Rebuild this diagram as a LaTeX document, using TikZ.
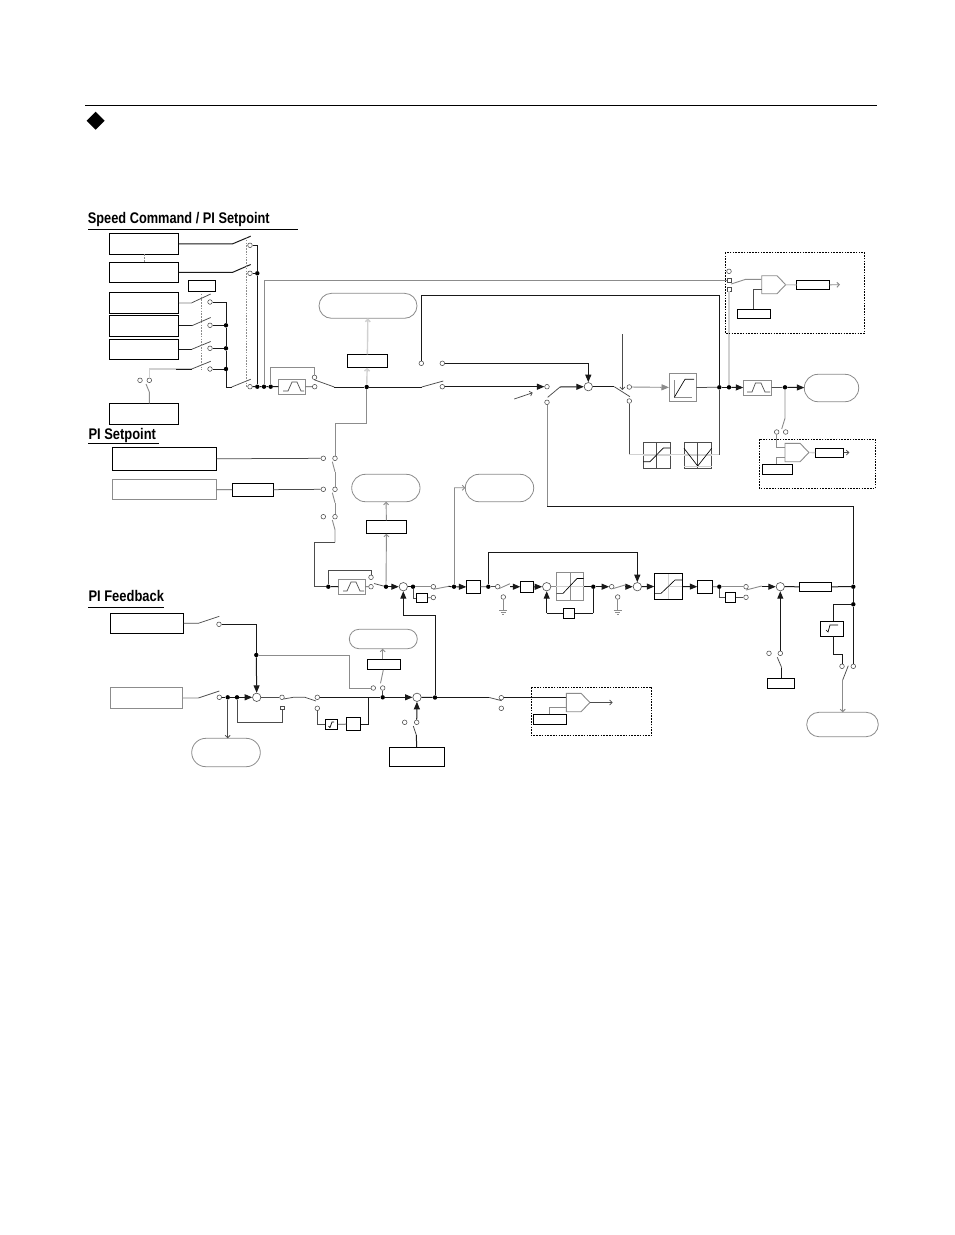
\documentclass[tikz,border=0pt]{standalone}
\usepackage{fontspec}
\setmainfont{Liberation Sans}
\usetikzlibrary{arrows.meta,shapes.misc}
\definecolor{mg}{gray}{0.55}
\definecolor{lg}{gray}{0.82}
\definecolor{dg}{gray}{0.3}
\tikzset{
  bk/.style={draw=black,line width=1pt,fill=white,inner sep=0pt,outer sep=0pt},
  bg/.style={draw=mg,line width=0.9pt,fill=white,inner sep=0pt,outer sep=0pt},
  bd/.style={draw=dg,line width=0.8pt,fill=white,inner sep=0pt,outer sep=0pt},
  ov/.style={rounded rectangle,draw=mg,line width=0.8pt,fill=white,inner sep=0pt,outer sep=0pt},
  term/.style={circle,draw=dg,line width=0.55pt,fill=white,inner sep=0pt,minimum size=4.6pt},
  sqterm/.style={rectangle,draw=dg,line width=0.55pt,fill=white,inner sep=0pt,minimum size=3.8pt},
  sumj/.style={circle,draw=dg,line width=0.6pt,fill=white,inner sep=0pt,minimum size=8.4pt},
  dotj/.style={circle,fill=black,inner sep=0pt,minimum size=4.4pt},
  wk/.style={draw=black!90,line width=1pt},
  wt/.style={draw=dg,line width=0.75pt},
  wm/.style={draw=mg,line width=0.9pt},
  wl/.style={draw=lg,line width=1.4pt},
  fa/.style={-{Triangle[length=7.5pt,width=6pt]}},
  oa/.style={-{Straight Barb[length=2.5pt,width=5pt]}},
  dsh/.style={draw=black,line width=0.75pt,dash pattern=on 1.6pt off 1.2pt},
  gdsh/.style={draw=mg,line width=0.7pt,dash pattern=on 1.6pt off 1.2pt},
  ttl/.style={anchor=base west,inner sep=0pt,font=\bfseries\fontsize{15.4}{17}\selectfont},
}
\newcommand{\mkbox}[6]{%
  \pgfmathsetmacro{\mkcx}{(#2+#4)/2}\pgfmathsetmacro{\mkcy}{(#3+#5)/2}%
  \pgfmathsetmacro{\mkw}{#4-#2}\pgfmathsetmacro{\mkh}{#5-#3}%
  \node[#6,minimum width=\mkw pt,minimum height=\mkh pt] (#1) at (\mkcx,\mkcy) {};}
\newcommand{\mkterm}[3]{\node[term] (#1) at (#2,#3) {};}
\newcommand{\mksq}[3]{\node[sqterm] (#1) at (#2,#3) {};}
\newcommand{\mkdot}[3]{\node[dotj] (#1) at (#2,#3) {};}
\newcommand{\mksum}[3]{\node[sumj] (#1) at (#2,#3) {};}
\newcommand{\mkco}[3]{\coordinate (#1) at (#2,#3);}
\begin{document}
\begin{tikzpicture}[x=1pt,y=-1pt]
\useasboundingbox (0,0) rectangle (954,1235);
\fill[white] (0,0) rectangle (954,1235);
% header
\mkco{ra}{85}{105.3}\mkco{rb}{877}{105.3}
\draw[black,line width=1pt] (ra) -- (rb);
\fill[black] (95.7,111.7) -- (104.7,120.7) -- (95.7,129.7) -- (86.7,120.7) -- cycle;
% titles
\node[ttl] (t1) at (87.7,223.5) {\scalebox{.83}[1]{Speed Command / PI Setpoint}};
\node[ttl] (t2) at (88.3,439.5) {\scalebox{.84}[1]{PI Setpoint}};
\node[ttl] (t3) at (88.3,601.7) {\scalebox{.84}[1]{PI Feedback}};
\mkco{u1a}{88}{229.3}\mkco{u1b}{298}{229.3}
\mkco{u2a}{88}{443.3}\mkco{u2b}{159}{443.3}
\mkco{u3a}{88}{607.3}\mkco{u3b}{164}{607.3}
\draw[black,line width=.9pt] (u1a)--(u1b) (u2a)--(u2b) (u3a)--(u3b);

% ---- boxes
\mkbox{a1}{109.3}{233.3}{178.7}{254.3}{bk}
\mkbox{a2}{109.3}{262.3}{178.7}{282.3}{bk}
\mkbox{a3}{109.3}{292.3}{178.7}{313.3}{bk}
\mkbox{a4}{109.3}{315.3}{178.7}{336.3}{bk}
\mkbox{a5}{109.3}{339.3}{178.7}{359.3}{bk}
\mkbox{a6}{109.3}{403.3}{178.7}{424.3}{bk}
\mkbox{as}{188.3}{280.3}{215.7}{291.3}{bk}
\mkbox{ovA}{319}{293.3}{417}{318.3}{ov}
\mkbox{rA}{347.3}{354.3}{387.3}{367.7}{bk}
\mkbox{fA}{278.3}{379.3}{305.7}{394.3}{bg}
\mkbox{sat}{669}{373.3}{696.3}{401.7}{bg}
\mkbox{blk1}{643}{442.7}{670.7}{468.7}{bd}
\mkbox{blk2}{684}{442.7}{711.7}{468.7}{bd}
\mkbox{fB}{743.3}{380}{771.7}{395.7}{bg}
\mkbox{ovB}{804.3}{374.3}{858.7}{401.7}{ov}
\mkbox{cb1}{796.3}{280.7}{829.7}{289.3}{bk}
\mkbox{cb2}{737.3}{309.3}{770.3}{318.3}{bk}
\mkbox{cb3}{815}{448.3}{843.7}{457.3}{bk}
\mkbox{cb4}{762.3}{464.3}{792.3}{474.3}{bk}
\mkbox{b1}{112.3}{447.3}{216.7}{470.7}{bk}
\mkbox{b2}{112.3}{479.3}{216.7}{499.7}{bg}
\mkbox{b3}{232.3}{483.3}{273.3}{496.3}{bk}
\mkbox{ovC}{351.7}{474.3}{420}{501.7}{ov}
\mkbox{rC}{366.3}{520.3}{406.7}{533.7}{bk}
\mkbox{fC}{338.3}{579.3}{365.7}{594.3}{bg}
\mkbox{ovD}{465.3}{474.3}{533.7}{501.7}{ov}
\mkbox{gA}{416.3}{593.3}{427.7}{602.7}{bk}
\mkbox{gB}{466.3}{580.3}{480.3}{593.7}{bk}
\mkbox{gC}{520.3}{581.3}{533.7}{592.3}{bk}
\mkbox{limA}{556.3}{572.7}{583.7}{600.7}{bg}
\mkbox{gD}{563.3}{608.3}{574.7}{618.3}{bk}
\mkbox{limB}{654.3}{573.3}{682.7}{599.3}{bk}
\mkbox{gE}{697.3}{580.3}{712.7}{593.3}{bk}
\mkbox{gF}{725.3}{592.3}{735.7}{602.3}{bk}
\mkbox{rE}{799.3}{582.3}{831.7}{591.3}{bk}
\mkbox{sqA}{820.3}{621.3}{843.7}{636.3}{bk}
\mkbox{ovE}{806.7}{712.3}{878.3}{736.7}{ov}
\mkbox{bE}{767.3}{678.3}{794.7}{688.3}{bk}
\mkbox{c1}{110.3}{613.3}{183.7}{633.3}{bk}
\mkbox{c2}{110.3}{687.7}{182.7}{708.3}{bg}
\mkbox{ovF}{349.3}{629.3}{417.3}{648.7}{ov}
\mkbox{rF}{367.3}{659.3}{400.7}{669.3}{bk}
\mkbox{ovG}{191.7}{738.3}{260.3}{766.7}{ov}
\mkbox{sqB}{325.3}{719.3}{337.7}{729.3}{bk}
\mkbox{gG}{346.7}{717.3}{360.7}{730.7}{bk}
\mkbox{bG}{389.3}{747.3}{444.3}{766.7}{bk}
\mkbox{cb5}{533.3}{714.3}{566.7}{724.3}{bk}

% ---- terminals, dots, junctions
\mkterm{t1a}{250}{245.3}\mkterm{t2a}{250}{273.3}\mkterm{t3a}{250}{386.7}
\mkterm{t4a}{210}{302}\mkterm{t5a}{210}{325.3}\mkterm{t6a}{210}{348.3}\mkterm{t7a}{210}{369}
\mkterm{t8a}{140}{380.3}\mkterm{t8b}{149.3}{380.3}
\mkterm{fAa}{314.5}{377.3}\mkterm{fAb}{314.7}{386.7}
\mkterm{mA}{442.3}{386.7}\mkterm{mB}{421.3}{363.3}\mkterm{mC}{442.3}{363.3}
\mkterm{mD}{547}{386.7}\mkterm{mE}{547}{402.3}
\mkterm{mF}{629.3}{387}\mkterm{mG}{629.3}{401}
\mkterm{cA}{729}{271.3}\mksq{cB}{729}{280}\mksq{cC}{729}{289}
\mkterm{cD}{776.7}{432}\mkterm{cE}{785.7}{432}
\mkterm{pA}{323.3}{458.3}\mkterm{pB}{335}{458.3}
\mkterm{pC}{323.3}{489.3}\mkterm{pD}{335}{489.3}
\mkterm{pE}{323.3}{516.7}\mkterm{pF}{335}{516.7}
\mkterm{fCa}{371}{577.3}\mkterm{fCb}{371}{586.7}
\mkterm{qA}{433.3}{586.7}\mkterm{qB}{433.3}{597.5}
\mkterm{qC}{497.7}{586.7}\mkterm{qD}{503.3}{597}
\mkterm{qE}{611.7}{586.7}\mkterm{qF}{617.7}{597}
\mkterm{qG}{746}{586.7}\mkterm{qH}{746}{597.3}
\mkterm{qI}{780.3}{653.3}\mkterm{qJ}{769}{653.3}
\mkterm{qK}{842}{666.3}\mkterm{qL}{853.3}{666.3}
\mkterm{rA1}{219}{624.3}\mkterm{rA2}{219.3}{697.3}
\mkterm{rB1}{282}{697.3}\mksq{rB2}{282}{707.7}
\mkterm{rC1}{317.3}{697.3}\mkterm{rC2}{317.3}{708.3}
\mkterm{rD1}{373.3}{688}\mkterm{rD2}{382.7}{688}
\mkterm{rE1}{404.7}{722.3}\mkterm{rE2}{416.7}{722.3}
\mkterm{rF1}{501.3}{697.7}\mkterm{rF2}{501.3}{708.3}

\mkdot{d1}{257.3}{273.3}\mkdot{d2}{257.3}{386.7}\mkdot{d3}{264}{386.7}\mkdot{d4}{270.7}{386.7}
\mkdot{d5}{226}{325.3}\mkdot{d6}{226}{348.3}\mkdot{d7}{226}{369}
\mkdot{d8}{366.7}{387}\mkdot{d9}{719.3}{387.3}\mkdot{d10}{729}{387.3}\mkdot{d11}{785}{387.3}
\mkdot{d12}{328.3}{586.7}\mkdot{d13}{386}{586.7}\mkdot{d14}{413}{586.7}\mkdot{d15}{454}{586.7}
\mkdot{d16}{488.3}{586.7}\mkdot{d17}{593.3}{586.7}\mkdot{d18}{719.3}{586.7}
\mkdot{d19}{853.3}{586.7}\mkdot{d20}{853.3}{604.3}
\mkdot{d21}{256.3}{655}\mkdot{d22}{227.7}{697.3}\mkdot{d23}{237}{697.3}
\mkdot{d24}{382.7}{697.3}\mkdot{d25}{435}{697.5}
\mksum{s1}{588.3}{386.7}\mksum{s2}{403.3}{586.7}\mksum{s3}{546.7}{586.7}\mksum{s4}{637.3}{586.7}
\mksum{s5}{780.3}{586.7}\mksum{s6}{256.7}{697.3}\mksum{s7}{417}{697.3}

% ---- waypoints
\mkco{w1}{264}{280}
\mkco{w2}{270.7}{367.7}\mkco{w3}{314.5}{367.7}
\mkco{w4}{366.7}{423.3}\mkco{w5}{335}{423.3}
\mkco{w6}{421.3}{295.3}\mkco{w7}{719.3}{295.3}
\mkco{w8}{547}{506}\mkco{w9}{853.3}{506}
\mkco{w10}{629.3}{454.7}\mkco{w11}{719.3}{454.7}
\mkco{w12}{335}{542.3}\mkco{w13}{314.3}{542.3}\mkco{w14}{314.3}{586.7}
\mkco{w15}{328.3}{570.3}\mkco{w16}{371}{570.3}
\mkco{w17}{454}{487.7}
\mkco{w18}{435}{615.3}\mkco{w19}{403.3}{615.3}
\mkco{w20}{488.3}{552.3}\mkco{w21}{637.3}{552.3}
\mkco{w22}{593.3}{613.3}\mkco{w23}{546.7}{613.3}
\mkco{w24}{833.3}{604.3}\mkco{w25}{833.3}{654.3}\mkco{w26}{842}{654.3}
\mkco{w27}{349.3}{655}\mkco{w28}{349.3}{688}
\mkco{w29}{237}{722.3}\mkco{w30}{282}{722.3}
\mkco{w31}{317.3}{724.3}\mkco{w32}{368.7}{724}\mkco{w33}{368.7}{697.3}
\mkco{w34}{776.7}{447.3}\mkco{w35}{776.7}{457.3}\mkco{w36}{753.3}{289.7}
\mkco{w37}{549.7}{707.3}

% ---- section 1 wires
\draw[wk] (a1.east) -- ++(54,0) -- ++(18,-7.6);
\draw[wk] (a2.east) -- ++(54,0) -- ++(18,-7.8);
\draw[wl] (a3.east) -- ++(13,0);
\draw[wt] (191.7,302.8) -- ++(19,-8.8);
\draw[wk] (a4.east) -- ++(13,0);
\draw[wt] (191.7,325.8) -- ++(19,-8.3);
\draw[wk] (a5.east) -- ++(13,0);
\draw[wt] (191.7,349.3) -- ++(19,-7.8);
\draw[wk] (t1a) -| (d1);
\draw[wk] (t2a) -- (d1);
\draw[wk] (d1) -- (d2);
\draw[wk] (t3a) -- (d2) -- (d3) -- (d4) -- (fA);
\draw[wk] (t4a) -| (d5);
\draw[wk] (t5a) -- (d5);
\draw[wk] (d5) -- (d6);
\draw[wk] (t6a) -- (d6);
\draw[wk] (d6) -- (d7);
\draw[wk] (t7a) -- (d7);
\draw[wk] (d7) |- (231.7,387);
\draw[wt] (231.7,387) -- (250.7,379.3);
\draw[wl] (t8b) |- (191.7,369);
\draw[wk] (176,369) -- (191.7,369);
\draw[wt] (191.7,369) -- ++(19,-7.7);
\draw[wm] (a6.north -| t8b) -- ++(0,-11.3) -- ++(-3.3,-8);
\draw[gdsh] (246.3,237) -- (246.3,387);
\draw[gdsh] (201.3,293.7) -- (201.3,370);
\draw[gdsh] (a1.south) -- (a2.north);
\draw[wm] (d3) |- (w1) -- (cB);
\draw[wm] (d4) |- (w2) -- (w3) -- (fAa);
\draw[wt] (fA) -- (fAb);
\draw[wt] (fAa.south) -- (334.3,387);
\draw[wk] (334.3,387) -- (d8);
\draw[wk] (d8) -- (421.7,387);
\draw[wt] (421.7,387) -- (443.3,381);
\draw[wk,fa] (mA) -- (mD);
\draw[wk] (mB) -- (w6) -- (w7) -- (d9);
\draw[wk,fa] (mC) -| (s1);
\draw[wm] (mE) -- (w8);
\draw[wk] (w8) -- (w9) -- (d19);
\draw[wt] (547.7,397.3) -- (560,387);
\draw[wk,fa] (560,387) -- (s1);
\draw[wt,oa] (514.3,399) -- (532.7,392.7);
\draw[wk] (s1) -- (614.3,386.7);
\draw[wt] (614.3,386.7) -- (630,396.7);
\draw[wt,oa] (622.3,334.3) -- (622.3,390);
\draw[wm,fa] (mF) -- (sat);
\draw[wt] (mG) -- (w10);
\draw[wl] (w10) -- (w11);
\draw[wt] (w11) -- (d9);
\draw[wt] (sat) -- (d9);
\draw[wk] (d9) -- (d10);
\draw[wk,fa] (d10) -- (fB);
\draw[wt] (fB) -- (d11);
\draw[wk,fa] (d11) -- (ovB);
% gray riser
\draw[wl] (d10) -- (cC);
% process-value reference to oval A
\draw[wl,oa] (d8) -- (rA);
\draw[wl,oa] (rA) -- (ovA);
\draw[wm] (d8) -- (w4);
\draw[wm] (w4) -- (w5) -- (pB);
% blocks 1,2
\draw[wl] (blk1.west) -- (blk1.east);
\draw[wl] (blk2.west) -- (blk2.east);
\draw[wt] (blk1.north) -- (blk1.south);
\draw[wt] (blk2.north) -- (blk2.south);
\draw[black,line width=.65pt] (643.3,461.7) -- (650,461.7) -- (663.3,448) -- (670,448);
\draw[black,line width=.65pt] (684,448.3) -- (697.7,466) -- (711.7,448.3);
\draw[lg,line width=1pt] (684,466) -- (711.7,466);
% saturation in sat
\draw[mg,line width=.7pt] (674.3,380) -- (674.3,397.3) -- (692,397.3);
\draw[black,line width=.65pt] (674.3,397.3) -- (685,379.3) -- (694,379.3);
% filter icons
\draw[dg,line width=.7pt] (283,391) -- (288,391) -- (292,382) -- (297,382) -- (301,391) -- (304,391);
\draw[dg,line width=.7pt] (747,392) -- (752,392) -- (755.5,383) -- (761,383) -- (765,392) -- (770,392);
\draw[dg,line width=.7pt] (343,591) -- (347,591) -- (351,582) -- (356,582) -- (360,591) -- (364,591);

% ---- comparator A (upper right)
\draw[dsh] (725.3,252.7) rectangle (864.7,333.3);
\draw[wm] (cB.east) ++(0,4) -- (745.7,279.3) -- (761.7,279.3);
\draw[wm,fill=white] (761.7,275.7) -- (777,275.7) -- (785.7,284.7) -- (777,293.7) -- (761.7,293.7) -- cycle;
\draw[wl] (785.7,284.7) -- (cb1);
\draw[wm,oa] (cb1) -- (840,284.7);
\draw[wt] (761.7,289.7) -- (w36) -- (cb2.north -| w36);
% comparator B
\draw[dsh] (759.3,439.3) rectangle (875.3,488.3);
\draw[wm] (d11) -- (785,418.3) -- (781.7,429);
\draw[wm] (cD) -- (w34) -- (785,447.3);
\draw[wm,fill=white] (785,443.3) -- (800,443.3) -- (809,452.5) -- (800,461.7) -- (785,461.7) -- cycle;
\draw[wl] (809,452.5) -- (cb3);
\draw[wt,oa] (cb3) -- (849.3,452.5);
\draw[wm] (cb4.north -| w35) -- (w35) -- (785,457.3);

% ---- PI setpoint
\draw[wt] (b1) -- (pA);
\draw[wt] (b2) -- (b3);
\draw[wt] (b3) -- (pC);
\draw[wm] (335,471.7) -- (332.3,461.7);
\draw[wm] (335,471.7) -- (pD);
\draw[wm] (335,502.7) -- (332.3,492.7);
\draw[wm] (335,502.7) -- (pF);
\draw[wm] (w12) -- (335,529.7) -- (332.3,520);
\draw[wt] (w12) -- (w13) -- (w14) -- (d12);
\draw[wk] (d12) -- (fC);
\draw[wt] (d12) -- (w15) -- (w16) -- (fCa);
\draw[wt] (fC) -- (fCb);
\draw[wt] (374,583.5) -- (d13);
\draw[wk,fa] (d13) -- (s2);
\draw[wm,oa] (d13) -- (rC);
\draw[wm,oa] (rC) -- (ovC);
\draw[wk] (s2) -- (d14);
\draw[wm] (d14) -- (qA);
\draw[wt] (d14) |- (gA);
\draw[wt] (gA) -- (qB);
\draw[wm] (433.3,589.3) -- (448.3,586.4);
\draw[wk] (448.3,586.4) -- (d15);
\draw[wk,fa] (d15) -- (gB);
\draw[wm] (d15) -- (w17);
\draw[wm,oa] (w17) -- (ovD);
\draw[wk] (d25) -- (w18) -- (w19);
\draw[wk,fa] (w19) -- (s2);
\draw[wt] (gB) -- (d16);
\draw[wk] (d16) -- (w20) -- (w21);
\draw[wk,fa] (w21) -- (s4);
\draw[wt] (d16) -- (qC);
\draw[wm] (499,588.6) -- (510,583.7);
\draw[wk,fa] (510,586.7) -- (gC);
\draw[wk,fa] (gC) -- (s3);
\draw[wm] (s3) -- (limA);
\draw[wk] (limA) -- (d17);
\draw[wk,fa] (d17) -- (qE);
\draw[wm] (613,588.6) -- (625,585);
\draw[wk,fa] (625,586.7) -- (s4);
\draw[wk,fa] (s4) -- (limB);
\draw[wk] (d17) -- (w22);
\draw[wk] (w22) -- (gD);
\draw[wk] (gD) -- (w23);
\draw[wk,fa] (w23) -- (s3);
\draw[wm] (qD) -- ++(0,13);
\draw[wm] (qF) -- ++(0,13);
\draw[wm] (499.3,610) -- (507.3,610) (500.8,612) -- (505.8,612) (502.3,614) -- (504.3,614);
\draw[wm] (613.7,610) -- (621.7,610) (615.2,612) -- (620.2,612) (616.7,614) -- (618.7,614);
% lim A, B icons
\draw[lg,line width=1pt] (556.3,586.7) -- (583.7,586.7);
\draw[wm] (limA.north) -- (limA.south);
\draw[black,line width=.65pt] (556.5,593.4) -- (563,593.4) -- (577,578.5) -- (583.5,578.5);
\draw[lg,line width=1pt] (668.5,574) -- (668.5,599) (668.5,586.7) -- (682,586.7);
\draw[black,line width=.65pt] (655,593.4) -- (661,593.4) -- (675,580) -- (682,580);

% ---- right part of main row
\draw[wk,fa] (limB) -- (gE);
\draw[wt] (gE) -- (d18);
\draw[wm] (d18) -- (qG);
\draw[wt] (d18) |- (gF);
\draw[wt] (gF) -- (qH);
\draw[wm] (746,590) -- (761.7,586);
\draw[wk,fa] (761.7,586.7) -- (s5);
\draw[wk] (s5) -- (rE);
\draw[wk] (rE) -- (d19);
\draw[wk,fa] (qI) -- (s5);
\draw[wk] (bE.north -| qI) ++(1.4,0) -- (781.7,667.7);
\draw[wt] (781.7,667.7) -- (777.3,657.3);
\draw[wk] (d19) -- (d20);
\draw[wk] (d20) -- (qL);
\draw[wk] (d20) -- (w24) -- (sqA.north -| w24);
\draw[wk] (sqA.south -| w25) -- (w25) -- (w26) -- (qK);
\draw[wt] (842.7,680) -- (848.3,665.7);
\draw[wm,oa] (842.7,680) -- (ovE.north -| 842.7,680);
% sqrt icons
\draw[black,line width=.7pt] (826,630) -- (828,632) -- (830,625) -- (838,625);
\draw[black,line width=.7pt] (328.5,726) -- (330,727.5) -- (332,722) -- (334,722);

% ---- PI feedback
\draw[wt] (c1.east) -- ++(14.6,0) -- ++(21,-7);
\draw[wk] (rA1) -| (d21);
\draw[wk,fa] (d21) -- (s6);
\draw[wm] (d21) -- (w27) -- (w28) -- (rD1);
\draw[wl] (c2.east) -- ++(15.6,0);
\draw[wt] (198.3,698) -- (219.3,691);
\draw[wk] (rA2) -- (d22) -- (d23);
\draw[wk,fa] (d23) -- (s6);
\draw[wt,oa] (d22) -- (ovG.north -| d22);
\draw[wt] (d23) -- (w29) -- (w30) -- (rB2);
\draw[wt] (s6) -- (rB1);
\draw[wt] (283.5,699) -- (293.3,697.3) -- (305,697.3) -- (316,701);
\draw[wk] (rC1) -- (d24);
\draw[wk,fa] (d24) -- (s7);
\draw[wt] (d24) -- (rD2);
\draw[wm] (380.5,683.3) -- (383.3,670);
\draw[wm,oa] (rF.north -| rD2) -- (ovF.south -| rD2);
\draw[wt] (rC2) |- (sqB);
\draw[wt] (sqB) -- (gG);
\draw[wk] (gG) -| (w33);
\draw[wk] (s7) -- (d25);
\draw[wk] (d25) -- (489.3,697.5);
\draw[wt] (489.3,697.5) -- (501.7,700.7);
\draw[wk,fa] (rE2) -- (s7);
\draw[wk] (bG.north -| rE2) -- (416.3,735);
\draw[wt] (416.3,735) -- (413.3,726);
\draw[dsh] (531.3,687.3) rectangle (651.7,735.7);
\draw[wk] (rF1) -- (566.3,697.7);
\draw[wm,fill=white] (566.3,693.3) -- (581,693.3) -- (590,702.5) -- (581,711.7) -- (566.3,711.7) -- cycle;
\draw[wt,oa] (590,702.5) -- (612.7,702.5);
\draw[wm] (cb5.north -| w37) -- (w37) -- (566.3,707.3);
\end{tikzpicture}
\end{document}
